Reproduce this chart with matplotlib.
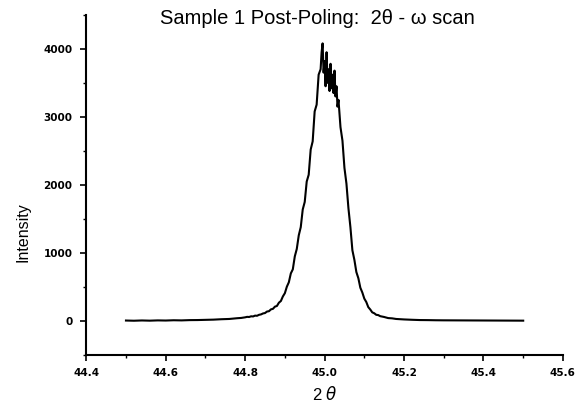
import matplotlib
matplotlib.use('Agg')
import matplotlib.pyplot as plt
from matplotlib.ticker import MultipleLocator

# --- dados ---
two_theta = [
    44.50, 44.52, 44.54, 44.56, 44.58, 44.60, 44.62, 44.64, 44.66, 44.68,
    44.70, 44.72, 44.74, 44.76, 44.78, 44.79,
    44.800, 44.805, 44.810, 44.815, 44.820, 44.825, 44.830, 44.835, 44.840, 44.845,
    44.850, 44.855, 44.860, 44.865, 44.870, 44.875, 44.880, 44.885, 44.890, 44.895,
    44.900, 44.905, 44.910, 44.915, 44.920, 44.925, 44.930, 44.935, 44.940, 44.945,
    44.950, 44.955, 44.960, 44.965, 44.970, 44.975, 44.980, 44.985, 44.990, 44.9925,
    44.995, 44.9975, 45.000, 45.0025, 45.005, 45.0075, 45.010, 45.0125, 45.015, 45.0175,
    45.020, 45.0225, 45.025, 45.0275, 45.030, 45.0325, 45.035, 45.040, 45.045,
    45.050, 45.055, 45.060, 45.065, 45.070, 45.075, 45.080, 45.085, 45.090, 45.095,
    45.100, 45.105, 45.110, 45.115, 45.120, 45.125, 45.130, 45.135, 45.140, 45.150,
    45.160, 45.17, 45.18, 45.20, 45.22, 45.24, 45.26, 45.28, 45.30, 45.34,
    45.38, 45.42, 45.46, 45.50,
]
intensity = [
    8, 5, 9, 6, 10, 8, 12, 10, 14, 15,
    18, 21, 27, 31, 42, 46,
    55, 62, 60, 70, 68, 80, 78, 92, 98, 112,
    118, 140, 145, 172, 180, 212, 222, 270, 295, 362,
    410, 505, 570, 700, 760, 950, 1060, 1260, 1380, 1640,
    1750, 2050, 2150, 2520, 2640, 3080, 3180, 3620, 3700, 3950,
    4080, 3650, 3820, 3450, 3950, 3500, 3700, 3380, 3780, 3420,
    3620, 3350, 3680, 3300, 3450, 3150, 3250, 2850, 2650,
    2250, 2020, 1660, 1380, 1040, 900, 720, 630, 490, 420,
    330, 280, 205, 170, 128, 115, 92, 88, 72, 60,
    44, 40, 31, 24, 19, 15, 14, 12, 11, 10,
    9, 8, 7, 6,
]

x_ticks = [44.4, 44.6, 44.8, 45.0, 45.2, 45.4, 45.6]
y_ticks = [0, 1000, 2000, 3000, 4000]

plt.rcParams['font.family'] = ['Liberation Sans', 'DejaVu Sans']

fig = plt.figure(figsize=(5.75, 4.11), dpi=100)
ax = fig.add_axes([0.150, 0.136, 0.829, 0.828])

ax.plot(two_theta, intensity, color='black', lw=1.5)

ax.set_xlim(44.4, 45.6)
ax.set_ylim(-500, 4500)
ax.set_xticks(x_ticks)
ax.set_yticks(y_ticks)
ax.set_xticklabels([f'{v:.1f}' for v in x_ticks])
ax.set_yticklabels([str(v) for v in y_ticks])
ax.xaxis.set_minor_locator(MultipleLocator(0.1))
ax.yaxis.set_minor_locator(MultipleLocator(500))

for lab in ax.get_xticklabels() + ax.get_yticklabels():
    lab.set_fontweight('bold')
    lab.set_fontfamily('DejaVu Sans')
    lab.set_fontsize(7.5)

ax.tick_params(which='major', direction='out', length=4, width=1.2)
ax.tick_params(axis='y', which='major', pad=6)
ax.tick_params(axis='x', which='major', pad=5)
ax.tick_params(which='minor', direction='out', length=2.5, width=1.0)

for s in ['top', 'right']:
    ax.spines[s].set_visible(False)
for s in ['left', 'bottom']:
    ax.spines[s].set_linewidth(1.5)

ax.set_ylabel('Intensity', fontsize=11.5)
ax.yaxis.set_label_coords(-0.117, 0.36)
ax.set_xlabel(r'2 $\theta$', fontsize=12, labelpad=5)

fig.text(317 / 575, 1 - 19 / 411, 'Sample 1 Post-Poling:  2θ - ω scan',
         ha='center', va='center', fontsize=14.5)

fig.savefig('out.png', dpi=100)
